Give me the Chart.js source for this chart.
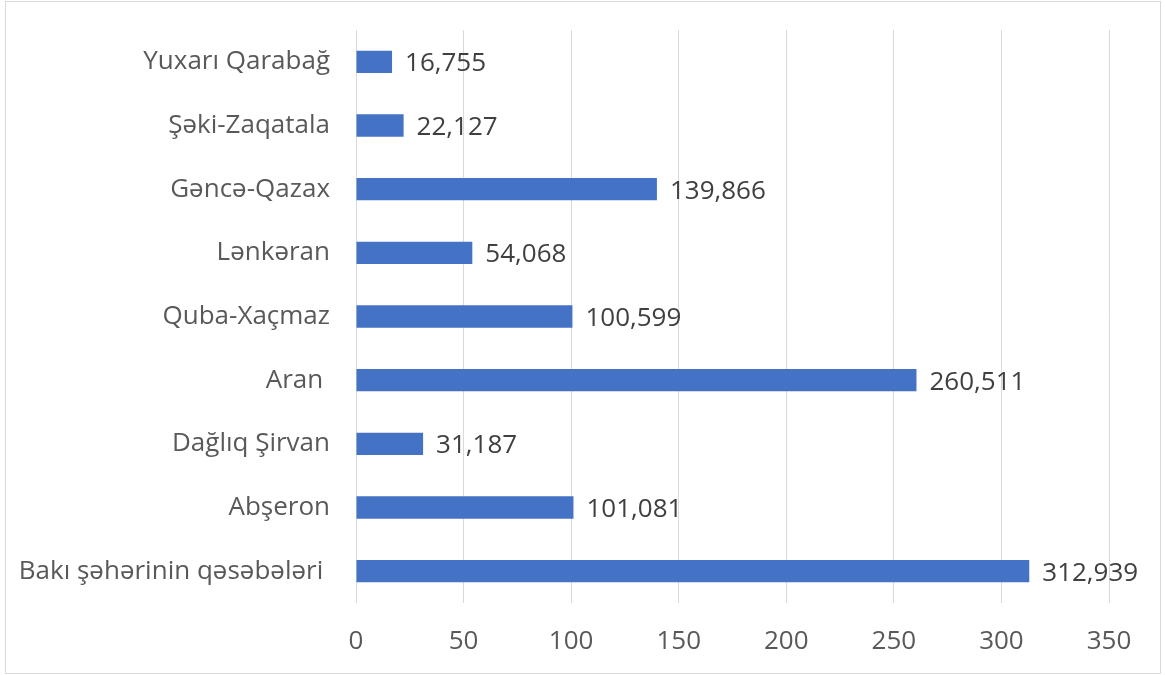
<!DOCTYPE html>
<html lang="az">
<head>
    <meta charset="UTF-8">
    <title>Regionlar</title>
    <script src="https://cdn.jsdelivr.net/npm/chart.js"></script>
    <style>
        html, body { margin: 0; padding: 0; background: #fff; }
        #wrap {
            position: relative;
            width: 1165px;
            height: 675px;
        }
        #frame {
            position: absolute;
            left: 5px; top: 1px;
            width: 1154px; height: 671px;
            border: 1px solid #d9d9d9;
            pointer-events: none;
        }
    </style>
</head>
<body>
<div id="wrap">
    <canvas id="barChart" width="1165" height="675"></canvas>
    <div id="frame"></div>
</div>
<script>
    // regionlar (yuxarıdan aşağı)
    const regions = [
        "Yuxarı Qarabağ",
        "Şəki-Zaqatala",
        "Gəncə-Qazax",
        "Lənkəran",
        "Quba-Xaçmaz",
        "Aran ",
        "Dağlıq Şirvan",
        "Abşeron",
        "Bakı şəhərinin qəsəbələri "
    ];
    const values = [16.755, 22.127, 139.866, 54.068, 100.599, 260.511, 31.187, 101.081, 312.939];
    const xTicks = [0, 50, 100, 150, 200, 250, 300, 350];

    const FONT = "'Open Sans', Lato, sans-serif";

    // rəqəmləri barın sonunda yaz
    const valueLabels = {
        id: 'valueLabels',
        afterDatasetsDraw(chart) {
            const ctx = chart.ctx;
            const meta = chart.getDatasetMeta(0);
            ctx.save();
            ctx.font = "26px " + FONT;
            ctx.fillStyle = '#404040';
            ctx.textAlign = 'left';
            ctx.textBaseline = 'middle';
            meta.data.forEach((bar, i) => {
                const txt = values[i].toFixed(3).replace('.', ',');
                ctx.fillText(txt, bar.x + 13, bar.y + 2);
            });
            ctx.restore();
        }
    };

    const ctx = document.getElementById('barChart').getContext('2d');
    new Chart(ctx, {
        type: 'bar',
        data: {
            labels: regions,
            datasets: [{
                data: values,
                backgroundColor: '#4472c4',
                barPercentage: 0.35,
                categoryPercentage: 1
            }]
        },
        options: {
            indexAxis: 'y',
            responsive: false,
            animation: false,
            layout: { padding: { left: 0, right: 56, top: 30, bottom: 0 } },
            plugins: {
                legend: { display: false },
                tooltip: { enabled: false }
            },
            scales: {
                x: {
                    min: 0,
                    max: 350,
                    afterBuildTicks: (axis) => { axis.ticks = xTicks.map(v => ({ value: v })); },
                    afterFit: (axis) => { axis.height = 72; },
                    grid: { color: '#d9d9d9', lineWidth: 1, drawTicks: false },
                    border: { display: false },
                    ticks: {
                        padding: 23,
                        color: '#595959',
                        font: { family: FONT, size: 26 }
                    }
                },
                y: {
                    afterFit: (axis) => {
                        axis.width = 356;
                        axis.paddingTop = 0;
                        axis.paddingBottom = 0;
                    },
                    grid: { display: false, drawTicks: false },
                    border: { display: false },
                    ticks: {
                        padding: 26,
                        color: '#595959',
                        font: { family: FONT, size: 26 }
                    }
                }
            }
        },
        plugins: [valueLabels]
    });
</script>
</body>
</html>
